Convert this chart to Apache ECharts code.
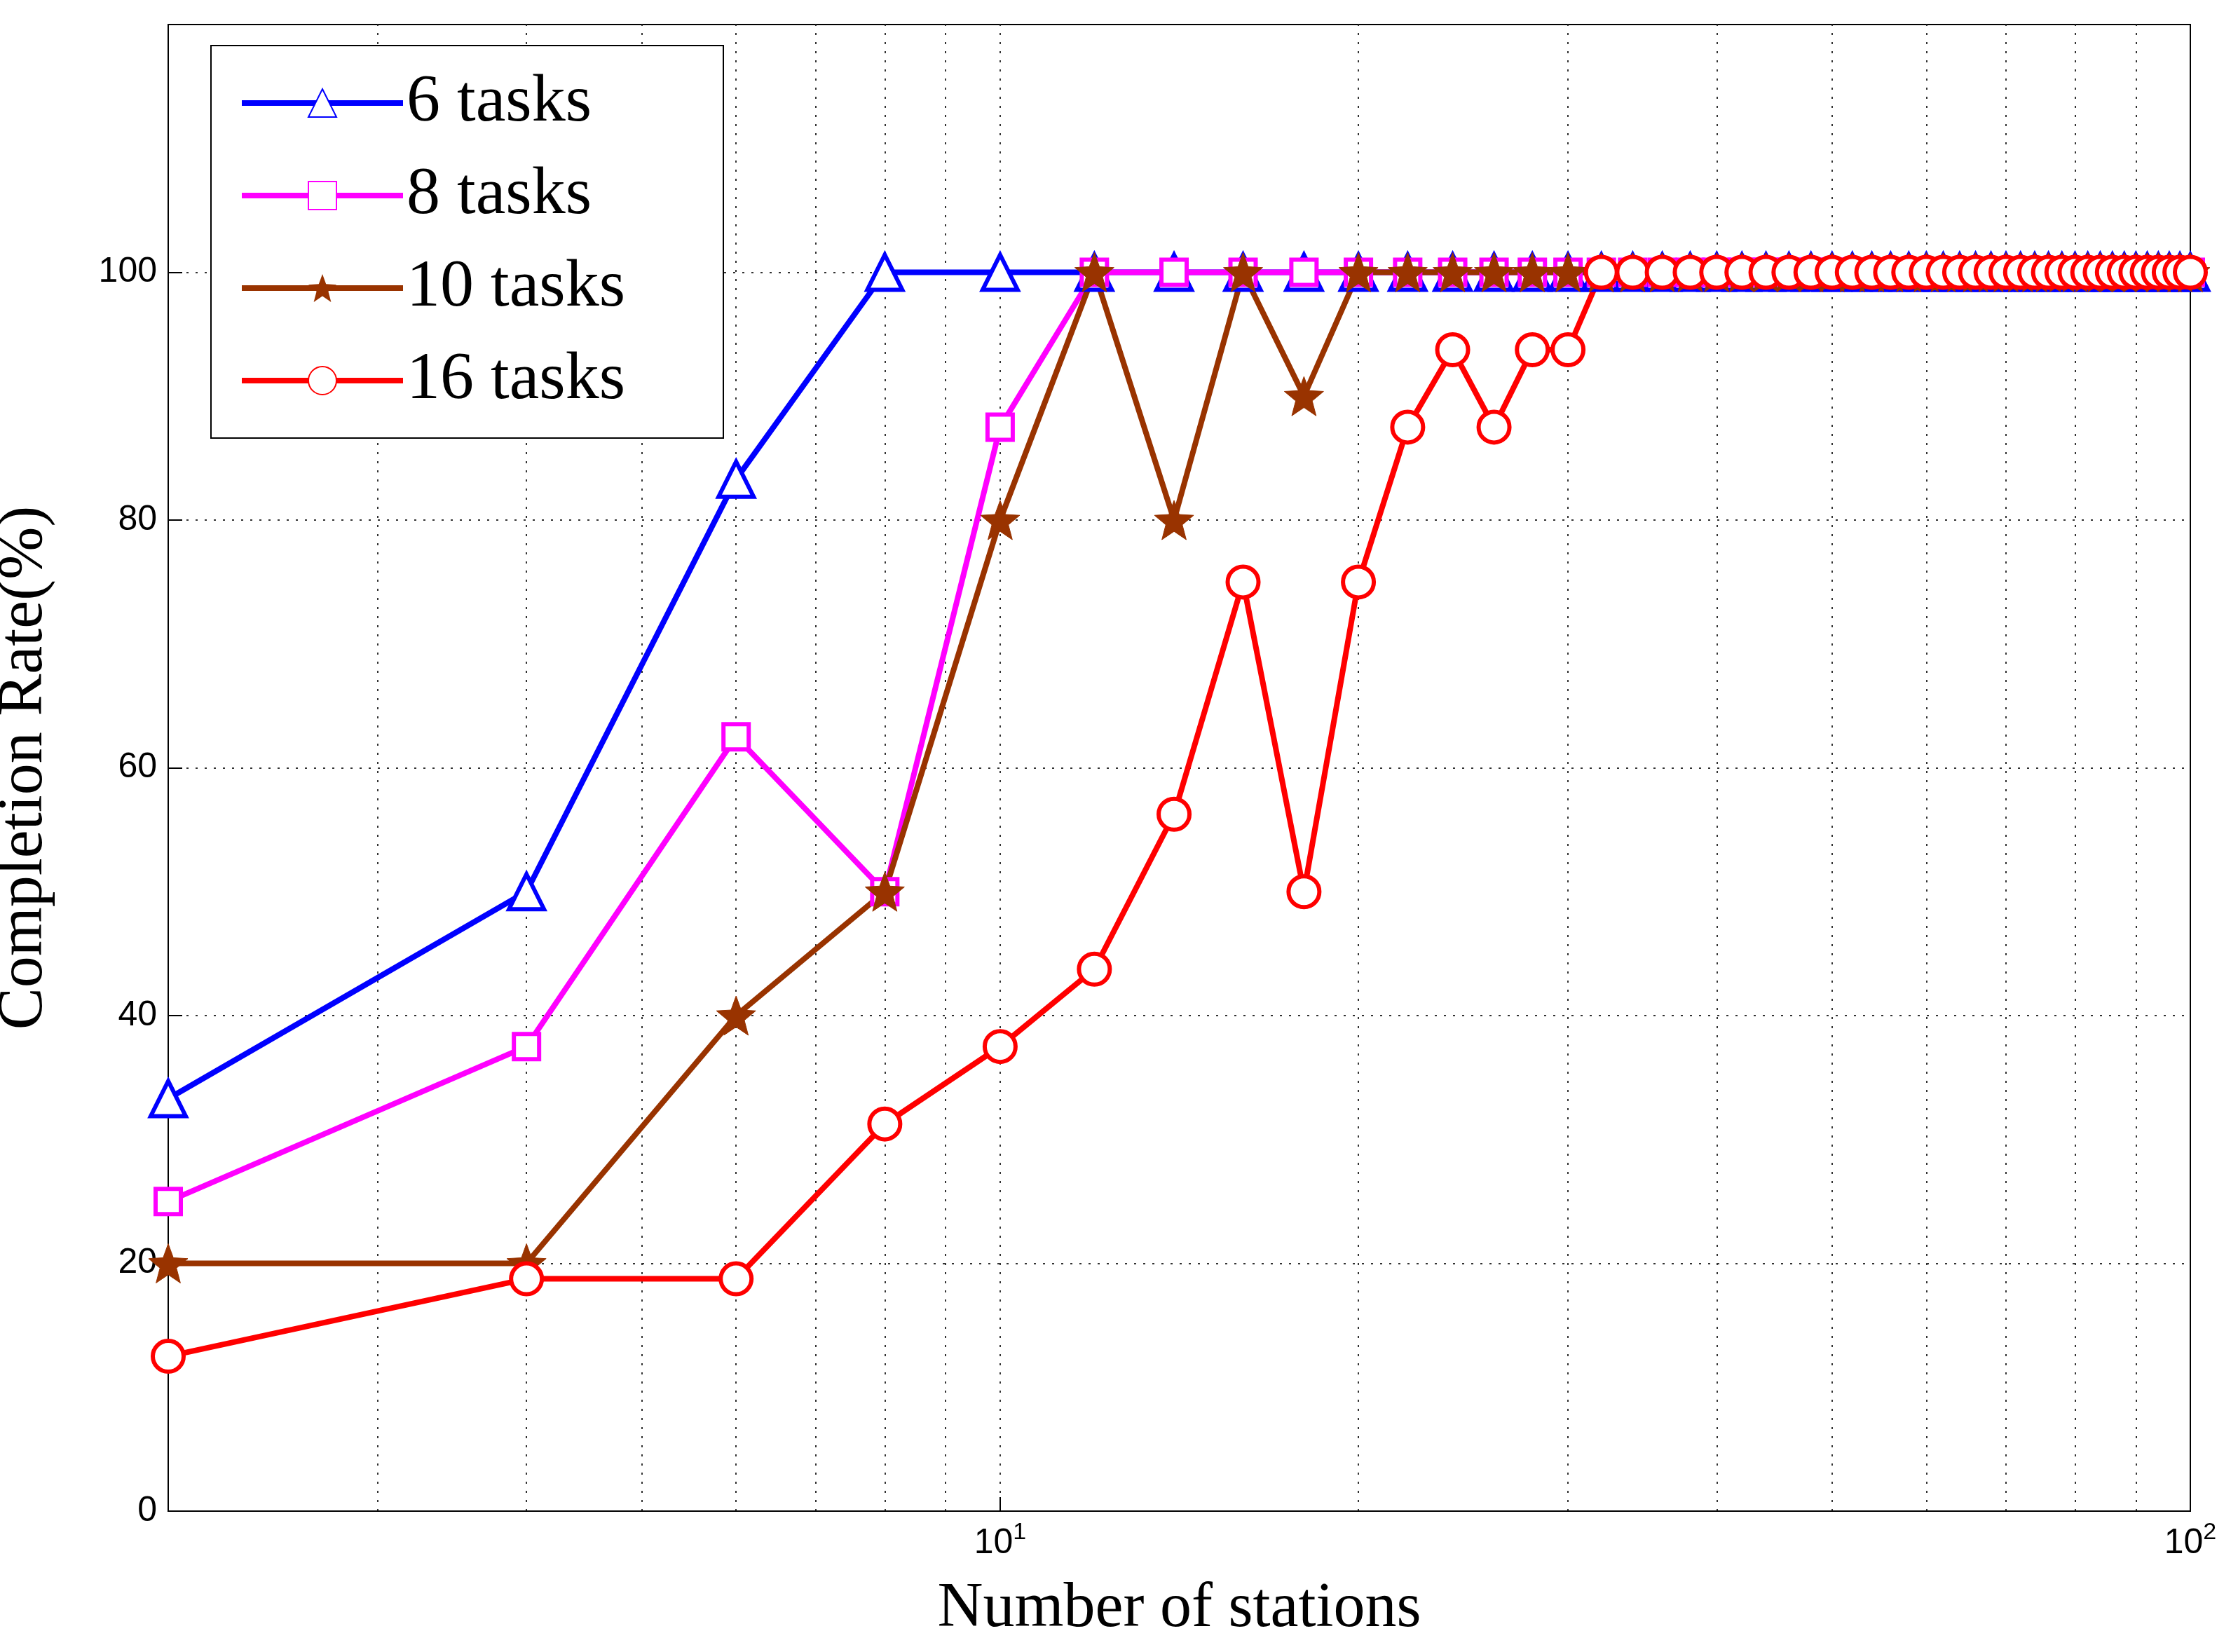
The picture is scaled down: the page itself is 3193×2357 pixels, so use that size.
<!DOCTYPE html>
<html>
<head>
<meta charset="utf-8">
<script src="https://cdn.jsdelivr.net/npm/echarts@6/dist/echarts.min.js"></script>
<style>html,body{margin:0;background:#fff}#chart{width:3193px;height:2357px}</style>
</head>
<body>
<div id="chart"></div>
<script>
var stations = [2,4,6,8,10,12,14,16,18,20,22,24,26,28,30,32,34,36,38,40,42,44,46,48,50,
    52,54,56,58,60,62,64,66,68,70,72,74,76,78,80,82,84,86,88,90,92,94,96,98,100];
var tasks6 = [33.3,50,83.3,100,100,100,100,100,100,100,100,100,100,100,100,100,100,100,100,100,100,100,100,100,100,
    100,100,100,100,100,100,100,100,100,100,100,100,100,100,100,100,100,100,100,100,100,100,100,100,100];
var tasks8 = [25,37.5,62.5,50,87.5,100,100,100,100,100,100,100,100,100,100,100,100,100,100,100,100,100,100,100,100,
    100,100,100,100,100,100,100,100,100,100,100,100,100,100,100,100,100,100,100,100,100,100,100,100,100];
var tasks10 = [20,20,40,50,80,100,80,100,90,100,100,100,100,100,100,100,100,100,100,100,100,100,100,100,100,
    100,100,100,100,100,100,100,100,100,100,100,100,100,100,100,100,100,100,100,100,100,100,100,100,100];
var tasks16 = [12.5,18.75,18.75,31.25,37.5,43.75,56.25,75,50,75,87.5,93.75,87.5,93.75,93.75,100,100,100,100,100,100,100,100,100,100,
    100,100,100,100,100,100,100,100,100,100,100,100,100,100,100,100,100,100,100,100,100,100,100,100,100];
var gridX = [3,4,5,6,7,8,9,20,30,40,50,60,70,80,90];
var yTicks = [20,40,60,80,100];

var star = 'path://M50,0 L63,34 L100,36 L71,59 L81,95 L50,75 L19,95 L29,59 L0,36 L37,34 Z';

function pairs(v) { return stations.map(function (s, i) { return [s, v[i]]; }); }
function mk(name, data, color, symbol, hollow, size) {
    return {
        name: name, type: 'line', data: pairs(data), symbol: symbol, symbolSize: size,
        lineStyle: {color: color, width: 8},
        itemStyle: hollow ? {color: '#fff', borderColor: color, borderWidth: 6} : {color: color, borderColor: color},
        emphasis: {disabled: true}, animation: false
    };
}

var series = [
    mk('6 tasks', tasks6, '#0000ff', 'triangle', true, 50),
    mk('8 tasks', tasks8, '#ff00ff', 'rect', true, 36),
    mk('10 tasks', tasks10, '#993300', star, false, 56),
    mk('16 tasks', tasks16, '#ff0000', 'circle', true, 44)
];
var dotted = {color: '#333', width: 2, type: [3, 10]};
series[0].markLine = {
    silent: true, symbol: 'none', label: {show: false}, lineStyle: dotted, z: 0,
    data: gridX.map(function (x) { return {xAxis: x}; }).concat([{xAxis: 10}])
        .concat(yTicks.map(function (y) { return {yAxis: y}; }))
};

var chart = echarts.init(document.getElementById('chart'));
chart.setOption({
    backgroundColor: '#fff',
    grid: {left: 240, right: 68, top: 35, bottom: 201, outerBoundsMode: 'none', containLabel: false,
           show: true, borderColor: '#000', borderWidth: 2},
    legend: {
        left: 301, top: 65, orient: 'vertical', itemWidth: 230, itemHeight: 50, itemGap: 36,
        padding: [34, 140, 34, 40], borderColor: '#000', borderWidth: 2, backgroundColor: '#fff',
        lineStyle: {width: 8},
        textStyle: {fontFamily: 'Liberation Serif', fontSize: 96, color: '#000'}
    },
    xAxis: {
        type: 'log', min: 2, max: 100, logBase: 10,
        name: 'Number of stations', nameLocation: 'middle', nameGap: 95,
        nameTextStyle: {fontFamily: 'Liberation Serif', fontSize: 90, color: '#000'},
        axisLine: {lineStyle: {color: '#000', width: 2}},
        axisTick: {inside: true, length: 20, lineStyle: {color: '#000', width: 2}},
        splitLine: {show: false},
        axisLabel: {
            fontFamily: 'Liberation Sans', fontSize: 50, color: '#000', margin: 14,
            formatter: function (v) {
                if (Math.abs(v - 10) < 1e-6) return '{b|10}{s|1}';
                if (Math.abs(v - 100) < 1e-6) return '{b|10}{s|2}';
                return '';
            },
            rich: {b: {fontSize: 50, fontFamily: 'Liberation Sans'},
                   s: {fontSize: 34, fontFamily: 'Liberation Sans', verticalAlign: 'top', padding: [0, 0, 30, 0]}}
        }
    },
    yAxis: {
        type: 'value', min: 0, max: 120, interval: 20,
        name: 'Completion Rate(%)', nameLocation: 'middle', nameGap: 160,
        nameTextStyle: {fontFamily: 'Liberation Serif', fontSize: 90, color: '#000'},
        axisLine: {lineStyle: {color: '#000', width: 2}},
        axisTick: {inside: true, length: 20, lineStyle: {color: '#000', width: 2}},
        splitLine: {show: false},
        axisLabel: {
            fontFamily: 'Liberation Sans', fontSize: 50, color: '#000', margin: 16,
            formatter: function (v) { return v > 100 ? '' : String(v); }
        }
    },
    series: series
});
</script>
</body>
</html>
